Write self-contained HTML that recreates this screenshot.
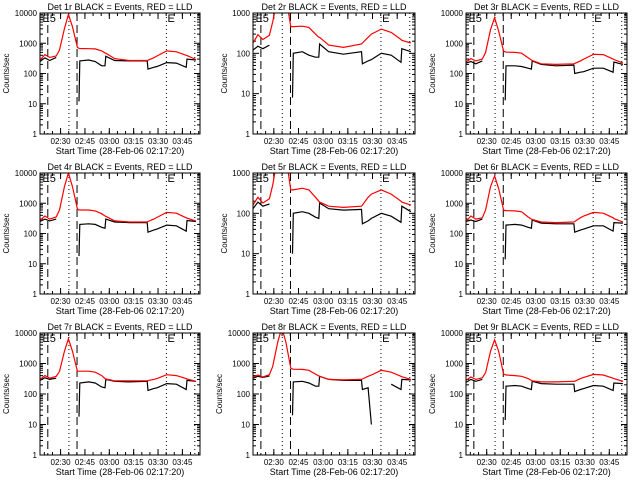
<!DOCTYPE html>
<html><head><meta charset="utf-8"><style>
html,body{margin:0;padding:0;background:#fff;}
svg{display:block;font-family:"Liberation Sans",sans-serif;}
</style></head><body>
<svg id="chart" width="640" height="480" viewBox="0 0 640 480" xmlns="http://www.w3.org/2000/svg"></svg>
<script>
// time in minutes since 02:17:20
const times = [0,3,6,10,12,15,17.5,20,23,24,24.5,30,34,38,40,40.5,46,55,66,66.5,70,72,78,84,90,90.5,96];
const panelTitles = ["Det 1r","Det 2r","Det 3r","Det 4r","Det 5r","Det 6r","Det 7r","Det 8r","Det 9r"];
const red1 = [280,420,340,380,600,3000,9000,3500,730,680,670,660,650,560,480,470,310,270,270,275,330,380,560,520,400,390,290];
const black1 = [250,330,270,340,null,null,null,null,null,12,260,280,250,180,180,370,270,260,260,140,160,170,230,220,160,300,280];
const red2 = [180,290,220,280,600,2500,5000,2500,460,460,460,470,440,300,250,250,160,140,170,180,250,300,400,330,220,210,180];
const black2 = [120,150,130,160,null,null,null,null,null,8,100,110,90,80,80,170,110,95,110,55,65,70,100,90,60,130,110];
const red3 = [240,310,260,300,500,2800,7000,2500,550,520,510,500,470,330,280,270,210,200,210,215,260,300,430,420,300,290,220];
const black3 = [220,250,210,260,null,null,null,null,null,13,180,180,170,150,140,260,200,180,190,100,110,115,150,150,110,240,200];
const red4 = [270,380,300,350,600,3500,10000,3500,650,600,600,600,560,450,380,370,260,240,240,250,300,340,500,470,330,320,260];
const black4 = [250,300,260,300,null,null,null,null,null,18,200,210,200,160,150,300,240,230,230,110,130,140,190,180,120,270,250];
const red5 = [160,250,180,230,500,2500,5000,2500,380,380,380,420,380,250,200,190,150,140,150,160,250,300,380,300,200,190,160];
const black5 = [130,190,150,170,null,null,null,null,null,10,100,110,100,80,75,180,130,120,125,55,65,75,100,85,60,150,110];
const red6 = [250,380,300,330,600,3500,8000,3000,600,570,570,560,520,350,300,290,240,230,240,250,330,380,500,470,330,310,240];
const black6 = [250,280,250,300,null,null,null,null,null,14,190,200,190,160,150,280,220,210,210,110,130,140,180,180,120,230,220];
const red7 = [300,400,330,380,550,2500,6500,2500,560,560,560,560,520,400,320,310,270,270,270,275,300,320,430,400,320,310,260];
const black7 = [280,340,300,330,null,null,null,null,null,18,230,250,230,170,160,300,260,250,260,130,150,160,220,210,140,280,260];
const red8 = [350,420,360,430,800,5000,15000,5000,700,660,650,640,600,450,390,380,300,290,300,310,380,420,600,520,380,370,300];
const black8 = [330,380,350,390,null,null,null,null,null,20,250,260,230,180,180,380,300,280,280,140,160,10,null,210,140,300,290];
const red9 = [280,360,300,340,500,2500,6000,2500,450,430,420,400,380,320,280,270,250,250,260,260,320,350,440,420,330,320,260];
const black9 = [240,300,260,300,null,null,null,null,null,14,180,190,180,150,140,260,220,210,210,120,140,150,190,180,130,230,220];
const redSeries = [red1,red2,red3,red4,red5,red6,red7,red8,red9];
const blackSeries = [black1,black2,black3,black4,black5,black6,black7,black8,black9];
const yMaxDecade = [4,3,4,4,3,4,4,4,4];
const xTickTimes = [12.667,27.667,42.667,57.667,72.667,87.667];
const xTickLabels = ["02:30","02:45","03:00","03:15","03:30","03:45"];
const dashedTimes = [4.8,22.8];
const dottedTimes = [17.8,77.8,95.3];

const NS="http://www.w3.org/2000/svg";
const svg=document.getElementById('chart');
function mk(tag,attrs,parent){const e=document.createElementNS(NS,tag);for(const k in attrs)e.setAttribute(k,attrs[k]);(parent||svg).appendChild(e);return e;}
const lefts=[40,253,466], rights=[200,415,627], tops=[13,173,333], bottoms=[134,294,455];
const T_END=98.5;

for(let p=0;p<9;p++){
  const c=p%3, r=Math.floor(p/3);
  const L=lefts[c], R=rights[c], Tp=tops[r], B=bottoms[r];
  const dmax=yMaxDecade[p];
  const xs=t=>L+t*(R-L)/T_END;
  const ys=v=>B-Math.log10(v)*(B-Tp)/dmax;
  const g=mk('g',{});
  
  
  const cid='clip'+p;
  const cp=mk('clipPath',{id:cid},g); mk('rect',{x:L,y:Tp,width:R-L,height:B-Tp},cp);
  const title=mk('text',{x:(L+R)/2,y:Tp-3,'text-anchor':'middle','font-size':'9'},g);
  title.textContent=panelTitles[p]+" BLACK = Events, RED = LLD";
  
  
  for(let d=0;d<=dmax;d++){
    const y=ys(Math.pow(10,d));
    mk('line',{x1:L,x2:L+6,y1:y,y2:y,stroke:'#000'},g);
    mk('line',{x1:R,x2:R-6,y1:y,y2:y,stroke:'#000'},g);
    const tl=mk('text',{x:L-3,y:y+3,'text-anchor':'end','font-size':'8'},g);
    tl.textContent=String(Math.pow(10,d));
    
    
    if(d<dmax){for(let m=2;m<=9;m++){const ym=ys(m*Math.pow(10,d));
      mk('line',{x1:L,x2:L+3,y1:ym,y2:ym,stroke:'#000'},g);
      mk('line',{x1:R,x2:R-3,y1:ym,y2:ym,stroke:'#000'},g);}}
  }
  for(let i=0;i<xTickTimes.length;i++){
    const x=xs(xTickTimes[i]);
    mk('line',{x1:x,x2:x,y1:B,y2:B-6,stroke:'#000'},g);
    mk('line',{x1:x,x2:x,y1:Tp,y2:Tp+6,stroke:'#000'},g);
    const tl=mk('text',{x:x,y:B+10,'text-anchor':'middle','font-size':'8'},g);
    tl.textContent=xTickLabels[i];
    
    
  }
  for(let t=2.667;t<T_END;t+=5){
    const x=xs(t);
    mk('line',{x1:x,x2:x,y1:B,y2:B-3,stroke:'#000'},g);
    mk('line',{x1:x,x2:x,y1:Tp,y2:Tp+3,stroke:'#000'},g);
  }
  const xt=mk('text',{x:(L+R)/2,y:B+20,'text-anchor':'middle','font-size':'9'},g);
  xt.textContent="Start Time (28-Feb-06 02:17:20)";
  
  
  const yx=L-(dmax===4?31:26), yy=(Tp+B)/2;
  const yt=mk('text',{x:yx,y:yy,'text-anchor':'middle','font-size':'8',transform:`rotate(-90 ${yx} ${yy})`},g);
  yt.textContent="Counts/sec";
  
  
  dashedTimes.forEach(t=>{const x=xs(t);mk('line',{x1:x,x2:x,y1:Tp,y2:B,stroke:'#000','stroke-dasharray':'8,4'},g);});
  dottedTimes.forEach(t=>{const x=xs(t);mk('line',{x1:x,x2:x,y1:Tp,y2:B,stroke:'#000','stroke-dasharray':'1,3'},g);});
  const e1=mk('text',{x:xs(1.5),y:Tp+9,'font-size':'11'},g); e1.textContent="E5";
  
  
  const e2=mk('text',{x:xs(78.5),y:Tp+9,'font-size':'11'},g); e2.textContent="E";
  
  
  function pathFor(arr){let d='',pen=false;
    for(let i=0;i<times.length;i++){const v=arr[i];
      if(v==null){pen=false;continue;}
      d+=(pen?'L':'M')+xs(times[i]).toFixed(1)+','+ys(v).toFixed(1);pen=true;}
    return d;}
  const bl=mk('path',{d:pathFor(blackSeries[p]),fill:'none',stroke:'#000','stroke-width':'1.2','clip-path':`url(#${cid})`},g);
  
  
  const rl=mk('path',{d:pathFor(redSeries[p]),fill:'none',stroke:'#ff0000','stroke-width':'1.2','clip-path':`url(#${cid})`},g);
  
  
  const box=mk('rect',{x:L,y:Tp,width:R-L,height:B-Tp,fill:'none',stroke:'#000'},g);
  
  
}
</script>
</body></html>
